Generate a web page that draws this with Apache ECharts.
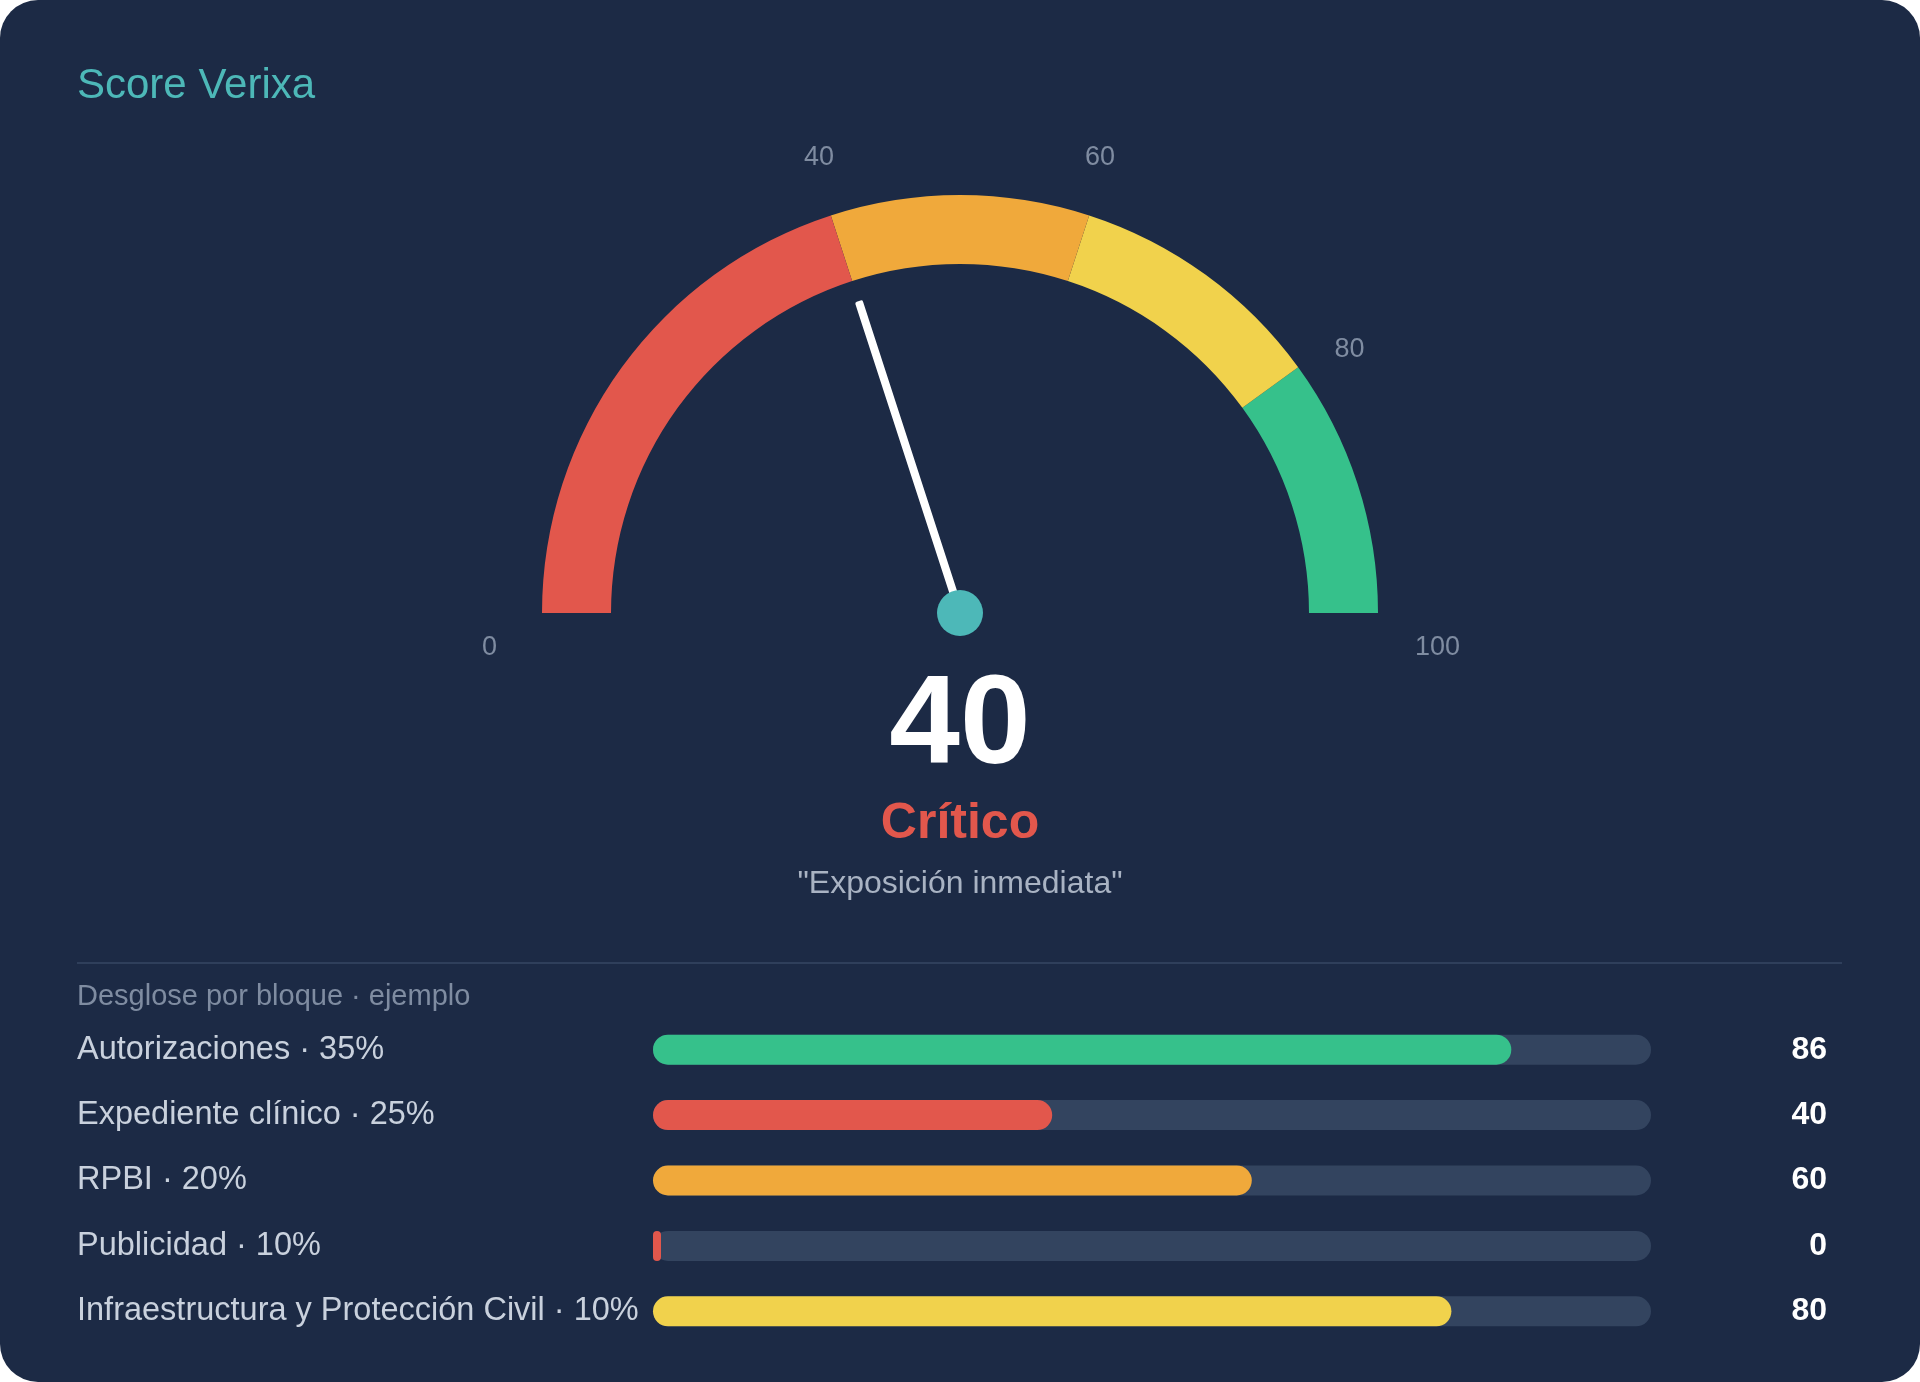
<!DOCTYPE html>
<html>
<head>
<meta charset="utf-8">
<title>Score Verixa</title>
<script src="https://cdn.jsdelivr.net/npm/echarts@6/dist/echarts.min.js"></script>
<style>
    html, body { margin: 0; padding: 0; background: #ffffff; overflow: hidden; }
    #card { position: absolute; left: 0; top: 0; width: 1920px; height: 1382px; border-radius: 38px; background: #1c2a45; overflow: hidden; }
    #chart { width: 1920px; height: 1382px; }
</style>
</head>
<body>
<div id="card"><div id="chart"></div></div>
<script>
// datos del score
const scoreValue = 40
const levelName = 'Crítico'
const levelQuote = '"Exposición inmediata"'

// bandas del gauge (limite superior de cada banda)
const bandLimits = [40, 60, 80, 100]
const bandColors = ['#e2574c', '#f0a93b', '#f1d24c', '#36c18b']
const gaugeTicks = [0, 40, 60, 80, 100]

// desglose por bloque
const blockNames = [
    'Autorizaciones · 35%',
    'Expediente clínico · 25%',
    'RPBI · 20%',
    'Publicidad · 10%',
    'Infraestructura y Protección Civil · 10%'
]
const blockScores = [86, 40, 60, 0, 80]
const trackMax = [100, 100, 100, 100, 100]

const FONT = '"Liberation Sans", Arial, sans-serif'
const TICK_COLOR = '#7f8ca1'

const colorFor = v => {
    for (let i = 0; i < bandLimits.length; i++) {
        if (v <= bandLimits[i]) return bandColors[i]
    }
    return bandColors[bandColors.length - 1]
}

// ajuste fino de cada etiqueta del gauge
const tickRich = {}
const tickPad = {
    0: [70, 0, 0, 22],
    40: [7, 0, 0, 27],
    60: [7, 29, 0, 0],
    80: [60, 0, 0, 0],
    100: [70, 0, 0, 0]
}
gaugeTicks.forEach(t => {
    tickRich['t' + t] = { fontSize: 27, color: TICK_COLOR, fontFamily: FONT, padding: tickPad[t] }
})

const chart = echarts.init(document.getElementById('chart'))

const option = {
    animation: false,
    backgroundColor: 'transparent',
    textStyle: { fontFamily: FONT },
    title: [
        {
            text: 'Score Verixa',
            left: 77,
            top: 65,
            padding: 0,
            textStyle: { color: '#4db8b8', fontSize: 42, fontWeight: 'normal' }
        },
        {
            text: levelQuote,
            left: 'center',
            top: 868,
            padding: 0,
            textStyle: { color: '#a9b3c3', fontSize: 32, fontWeight: 'normal' }
        },
        {
            text: 'Desglose por bloque · ejemplo',
            left: 77,
            top: 982,
            padding: 0,
            textStyle: { color: '#7f8ca1', fontSize: 29, fontWeight: 'normal' }
        }
    ],
    graphic: [
        {
            type: 'line',
            shape: { x1: 77, y1: 963, x2: 1842, y2: 963 },
            style: { stroke: '#2f3f5b', lineWidth: 2 },
            silent: true
        }
    ],
    grid: { left: 653, width: 998, top: 1017, height: 327 },
    xAxis: {
        type: 'value',
        min: 0,
        max: 100,
        show: false
    },
    yAxis: {
        type: 'category',
        inverse: true,
        data: blockNames,
        axisLine: { show: false },
        axisTick: { show: false },
        axisLabel: {
            align: 'left',
            margin: 576,
            fontSize: 32.5,
            color: '#c9d1dd'
        }
    },
    series: [
        {
            type: 'gauge',
            center: [960, 613],
            radius: 418,
            startAngle: 180,
            endAngle: 0,
            min: 0,
            max: 100,
            splitNumber: 5,
            axisLine: {
                lineStyle: {
                    width: 69,
                    color: bandLimits.map((l, i) => [l / 100, bandColors[i]])
                }
            },
            axisTick: { show: false },
            splitLine: { show: false, length: 0, distance: 0 },
            axisLabel: {
                distance: -82,
                fontSize: 27,
                color: TICK_COLOR,
                formatter: v => gaugeTicks.includes(v) ? '{t' + v + '|' + v + '}' : '',
                rich: tickRich
            },
            pointer: {
                icon: 'roundRect',
                length: 328,
                width: 8,
                offsetCenter: [0, 0],
                itemStyle: { color: '#ffffff' }
            },
            anchor: {
                show: true,
                showAbove: true,
                size: 46,
                itemStyle: { color: '#4db8b8', borderWidth: 0 }
            },
            title: {
                offsetCenter: [0, 211],
                fontSize: 50,
                fontWeight: 'bold',
                color: colorFor(scoreValue)
            },
            detail: {
                offsetCenter: [0, 115],
                fontSize: 127,
                fontWeight: 'bold',
                color: '#ffffff',
                formatter: '{value}'
            },
            data: [{ value: scoreValue, name: levelName }]
        },
        {
            type: 'bar',
            data: trackMax,
            barWidth: 30,
            barGap: '-100%',
            silent: true,
            itemStyle: { color: '#33445f', borderRadius: 15 },
            label: {
                show: true,
                position: 'insideRight',
                offset: [181, 0],
                formatter: p => blockScores[p.dataIndex],
                fontSize: 32,
                fontWeight: 'bold',
                color: '#ffffff'
            },
            z: 2
        },
        {
            type: 'bar',
            data: blockScores.map(v => ({ value: v, itemStyle: { color: colorFor(v) } })),
            barWidth: 30,
            barGap: '-100%',
            barMinHeight: 8,
            silent: true,
            itemStyle: { borderRadius: 15 },
            z: 3
        }
    ]
}

chart.setOption(option)
</script>
</body>
</html>
